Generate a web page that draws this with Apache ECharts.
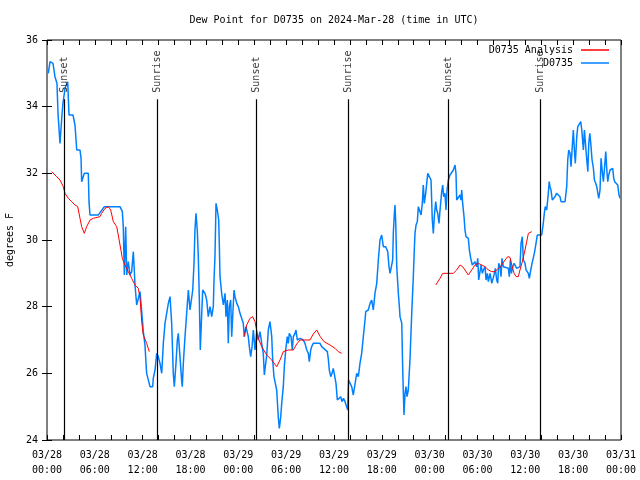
<!DOCTYPE html>
<html><head><meta charset="utf-8">
<script src="https://cdn.jsdelivr.net/npm/echarts@6/dist/echarts.min.js"></script>
<style>html,body{margin:0;padding:0;background:#fff}#c{width:640px;height:480px}</style>
</head><body><div id="c"></div>
<script>
const xTickLabels = ['03/28\n00:00','03/28\n06:00','03/28\n12:00','03/28\n18:00','03/29\n00:00','03/29\n06:00','03/29\n12:00','03/29\n18:00','03/30\n00:00','03/30\n06:00','03/30\n12:00','03/30\n18:00','03/31\n00:00'];
const sunTimes = [2.17, 13.84, 26.26, 37.8, 50.35, 61.88];
const sunNames = ['Sunset','Sunrise','Sunset','Sunrise','Sunset','Sunrise'];

// hours since 03/28 00:00 UTC, dew point (F)
const observed = [
[0.16,35.0],[0.38,35.35],[0.75,35.3],[1.0,34.9],[1.25,34.7],[1.38,33.8],[1.63,32.9],[1.88,33.75],[2.0,34.1],[2.26,34.55],
[2.6,34.75],[2.76,33.75],[3.26,33.75],[3.51,33.45],[3.73,32.7],[4.14,32.7],[4.27,32.45],[4.35,31.75],[4.55,31.75],[4.68,32.0],
[5.18,32.0],[5.27,31.15],[5.39,30.75],[6.44,30.75],[7.19,31.0],[8.12,31.0],[8.74,31.0],[8.94,30.95],[9.16,31.0],[9.45,30.85],
[9.57,30.4],[9.7,28.95],[9.87,30.4],[10.0,28.95],[10.2,29.35],[10.41,28.95],[10.62,29.05],[10.83,29.65],[11.04,28.65],[11.25,28.05],
[11.45,28.05],[11.67,28.45],[11.88,27.85],[12.08,27.25],[12.29,26.85],[12.42,26.3],[12.5,26.0],[12.71,26.0],[12.92,25.6],[13.26,25.6],
[13.33,25.85],[13.55,26.1],[13.76,26.6],[13.96,26.5],[14.17,26.3],[14.39,26.0],[14.59,26.9],[14.8,27.5],[15.01,27.8],[15.22,28.1],
[15.43,28.3],[15.64,27.5],[15.84,26.0],[15.97,25.6],[16.18,26.3],[16.35,27.0],[16.47,27.2],[16.68,26.5],[16.9,25.75],[16.97,25.6],
[17.1,26.3],[17.31,27.1],[17.52,27.8],[17.73,28.5],[17.94,27.9],[18.15,27.9],[18.28,28.5],[18.44,29.3],[18.56,30.3],[18.69,30.8],
[18.85,30.3],[18.98,29.5],[19.1,28.3],[19.23,26.7],[19.36,27.5],[19.53,28.5],[19.82,28.4],[20.03,28.2],[20.23,27.7],[20.45,28.0],
[20.66,27.7],[20.86,28.0],[20.95,28.8],[21.07,29.5],[21.2,31.1],[21.36,30.9],[21.54,30.6],[21.61,29.9],[21.7,28.9],[21.91,28.4],
[22.12,28.05],[22.33,28.4],[22.45,27.7],[22.62,28.2],[22.74,26.9],[22.87,28.0],[23.04,28.2],[23.17,27.1],[23.29,27.7],[23.46,28.5],
[23.58,28.3],[23.8,28.1],[24.0,28.0],[24.21,27.8],[24.42,27.85],[24.62,27.5],[24.75,27.1],[24.96,27.4],[25.25,27.1],[25.38,26.8],
[25.55,26.5],[25.72,26.8],[25.88,27.3],[26.09,26.7],[26.3,27.2],[26.5,27.0],[26.72,27.25],[26.93,26.9],[27.13,26.6],[27.26,25.95],
[27.41,25.95],[27.56,26.55],[27.76,27.3],[27.97,27.55],[28.19,27.1],[28.31,26.4],[28.47,25.9],[28.64,25.7],[28.81,25.5],[29.01,24.7],
[29.14,24.35],[29.32,24.7],[29.44,25.1],[29.64,25.6],[29.77,26.2],[29.94,26.7],[30.14,27.1],[30.27,26.9],[30.39,27.2],[30.61,27.1],
[30.77,26.7],[30.9,27.1],[31.11,27.2],[31.23,27.3],[31.4,27.0],[31.52,26.95],[31.74,27.05],[31.95,27.05],[32.15,27.0],[32.36,26.9],
[32.58,26.7],[32.78,26.6],[32.9,26.35],[33.08,26.7],[33.2,26.8],[33.4,26.9],[33.83,26.9],[34.24,26.9],[34.46,26.8],[34.68,26.75],
[35.16,26.65],[35.28,26.45],[35.41,26.1],[35.59,25.9],[35.75,26.0],[35.91,26.15],[36.13,26.15],[36.25,25.7],[36.42,25.2],[36.67,25.15],
[36.84,25.3],[37.0,25.15],[37.19,25.25],[37.38,25.15],[37.59,25.0],[37.72,24.9],[37.82,25.8],[38.01,25.8],[38.22,25.6],[38.42,25.35],
[38.64,25.35],[38.85,26.0],[39.05,25.9],[39.26,26.3],[39.47,26.6],[39.68,27.1],[39.89,27.6],[39.98,27.85],[40.3,27.9],[40.52,28.1],
[40.73,28.2],[40.93,27.9],[41.14,28.4],[41.36,28.7],[41.56,29.4],[41.77,30.0],[41.98,30.15],[42.19,29.8],[42.49,29.8],[42.74,29.65],
[42.9,29.2],[43.03,29.0],[43.24,29.0],[43.36,29.4],[43.44,30.2],[43.56,30.75],[43.65,31.05],[43.74,30.55],[43.87,29.2],[44.07,28.4],
[44.2,28.0],[44.28,27.7],[44.5,27.5],[44.62,26.1],[44.7,25.4],[44.78,24.75],[44.91,25.4],[45.03,25.6],[45.16,25.3],[45.32,25.5],
[45.53,26.4],[45.75,27.8],[45.95,28.9],[46.07,29.7],[46.16,30.2],[46.29,30.45],[46.45,30.55],[46.58,31.0],[46.79,30.85],[46.92,30.75],
[47.08,31.1],[47.2,31.65],[47.33,31.1],[47.5,31.4],[47.63,31.7],[47.76,32.0],[47.92,31.95],[48.17,31.8],[48.33,30.6],[48.46,30.2],
[48.58,30.7],[48.76,31.15],[48.88,30.9],[49.01,30.8],[49.17,30.5],[49.3,30.9],[49.51,31.45],[49.64,31.65],[49.76,31.3],[49.92,31.4],
[50.05,30.9],[50.18,31.5],[50.34,31.8],[50.55,31.95],[50.76,31.95],[50.97,32.1],[51.18,32.25],[51.3,32.0],[51.39,31.2],[51.59,31.2],
[51.81,31.35],[51.93,31.2],[52.02,31.5],[52.14,31.1],[52.31,30.7],[52.43,30.3],[52.56,30.1],[52.85,30.05],[52.98,29.7],[53.15,29.45],
[53.35,29.25],[53.48,29.2],[53.69,29.35],[53.9,29.2],[54.03,29.45],[54.15,28.8],[54.32,28.8],[54.45,29.25],[54.61,29.0],[54.74,29.1],
[54.95,29.2],[55.07,28.8],[55.24,29.0],[55.36,28.75],[55.58,29.0],[55.79,28.7],[55.95,28.7],[56.07,28.95],[56.24,29.15],[56.41,28.8],
[56.54,28.7],[56.66,29.3],[56.82,29.2],[56.95,28.9],[57.07,29.45],[57.24,29.2],[57.45,29.15],[57.87,29.15],[57.99,28.9],[58.12,29.4],
[58.25,29.0],[58.42,29.2],[58.59,29.3],[58.92,29.15],[59.33,29.2],[59.46,29.9],[59.62,30.1],[59.75,29.4],[59.96,29.3],[60.09,29.1],
[60.21,29.15],[60.38,29.0],[60.5,28.85],[60.68,29.1],[60.84,29.3],[61.0,29.35],[61.13,29.6],[61.34,29.9],[61.5,30.15],[62.05,30.15],
[62.25,30.5],[62.38,30.8],[62.5,31.0],[62.68,30.9],[62.88,31.4],[63.0,31.75],[63.09,31.6],[63.22,31.5],[63.38,31.2],[63.51,31.15],
[63.72,31.3],[63.93,31.4],[64.14,31.45],[64.35,31.3],[64.48,31.15],[64.98,31.15],[65.19,31.6],[65.32,32.4],[65.44,32.7],[65.61,32.6],
[65.73,32.2],[65.86,32.7],[66.02,33.3],[66.15,32.7],[66.27,32.3],[66.45,33.1],[66.58,33.4],[66.78,33.45],[66.95,33.55],[67.08,33.3],
[67.28,32.7],[67.41,33.3],[67.54,32.9],[67.71,32.4],[67.84,32.05],[67.96,32.9],[68.09,33.2],[68.21,32.9],[68.37,32.4],[68.54,32.15],
[68.66,31.8],[68.83,31.7],[68.96,31.6],[69.21,31.25],[69.37,31.5],[69.5,32.45],[69.63,32.1],[69.79,31.75],[69.91,32.1],[70.09,32.65],
[70.22,32.1],[70.34,31.75],[70.46,31.95],[70.63,32.1],[70.96,32.15],[71.09,31.85],[71.21,31.75],[71.59,31.65],[71.75,31.35],[71.88,31.25]
];

// model analysis, with gaps
const analysis = [
[0.59,32.05],[0.79,32.0],[1.22,31.9],[1.63,31.8],[2.04,31.6],[2.26,31.4],[2.67,31.25],[3.1,31.15],[3.51,31.05],[3.85,31.0],
[4.14,30.65],[4.35,30.4],[4.68,30.2],[4.98,30.4],[5.39,30.6],[5.81,30.65],[6.65,30.7],[6.86,30.8],[7.28,30.95],[7.69,31.0],
[7.99,30.9],[8.32,30.55],[8.74,30.4],[8.94,30.15],[9.16,29.85],[9.45,29.45],[9.78,29.25],[10.2,29.05],[10.62,28.85],[11.04,28.65],
[11.45,28.55],[11.67,28.25],[11.88,27.55],[12.08,27.15],[12.5,26.9],[12.83,26.65],
[18.0,null],
[24.71,27.1],[25.05,27.45],[25.46,27.65],[25.8,27.7],[26.09,27.55],[26.3,27.3],[26.5,27.05],[26.93,26.8],[27.56,26.55],[28.19,26.4],
[28.81,26.2],[29.23,26.4],[29.64,26.65],[30.27,26.7],[30.9,26.7],[31.32,26.88],[31.74,27.0],[32.99,27.0],[33.4,27.18],[33.83,27.3],
[34.28,27.1],[34.75,26.95],[35.5,26.85],[36.13,26.75],[36.54,26.65],[36.97,26.6],
[42.0,null],
[48.76,28.65],[49.3,28.85],[49.64,29.0],[50.97,29.0],[51.39,29.1],[51.81,29.25],[52.14,29.2],[52.43,29.1],[52.85,28.95],[53.27,29.1],
[53.69,29.25],[54.1,29.3],[54.53,29.25],[54.95,29.2],[55.36,29.1],[55.79,29.05],[56.2,29.05],[56.61,29.15],[57.04,29.25],[57.45,29.4],
[57.79,29.5],[58.08,29.48],[58.3,29.25],[58.59,29.0],[58.84,28.9],[59.12,28.9],[59.33,29.1],[59.67,29.4],[59.96,29.7],[60.17,29.95],
[60.38,30.2],[60.59,30.25],[60.8,30.25]
];

const FONT = 'DejaVu Sans Mono';
const txt = {fontFamily: FONT, fontSize: 10, color: '#000', fontWeight: 'normal'};

const chart = echarts.init(document.getElementById('c'), null, {renderer: 'canvas'});
const legendCommon = {orient: 'vertical', align: 'right', itemWidth: 28, itemHeight: 1.5, selectedMode: false,
  padding: 0, textStyle: Object.assign({}, txt, {padding: [0, 3, 0, 0]})};
chart.setOption({
  animation: false,
  backgroundColor: '#fff',
  title: {text: 'Dew Point for D0735 on 2024-Mar-28 (time in UTC)', left: 334, top: 15, textAlign: 'center',
    padding: 0, textStyle: txt},
  legend: [
    Object.assign({data: [{name: 'D0735 Analysis', icon: 'rect'}], right: 31, top: 45}, legendCommon),
    Object.assign({data: [{name: 'D0735', icon: 'rect'}], right: 31, top: 58}, legendCommon)
  ],
  grid: {left: 47, right: 19, top: 40, bottom: 40, show: true, borderColor: '#000', borderWidth: 1,
    backgroundColor: 'transparent', containLabel: false, outerBoundsMode: 'none'},
  xAxis: [
    {type: 'value', min: 0, max: 72, interval: 2, axisLine: {show: false}, splitLine: {show: false},
     axisTick: {show: true, inside: true, length: 5, lineStyle: {color: '#000'}},
     axisLabel: Object.assign({}, txt, {margin: 8, lineHeight: 15, showMinLabel: true, showMaxLabel: true,
       formatter: v => (v % 6 === 0 ? xTickLabels[v / 6] : '')})},
    {type: 'value', position: 'top', min: 0, max: 72, interval: 2, axisLine: {show: false}, splitLine: {show: false},
     axisTick: {show: true, inside: true, length: 5, lineStyle: {color: '#000'}}, axisLabel: {show: false}}
  ],
  yAxis: [
    {type: 'value', min: 24, max: 36, interval: 2, axisLine: {show: false}, splitLine: {show: false},
     axisTick: {show: true, inside: true, length: 5, lineStyle: {color: '#000'}},
     axisLabel: Object.assign({}, txt, {margin: 9}),
     name: 'degrees F', nameLocation: 'middle', nameRotate: 90, nameGap: 32, nameTextStyle: txt},
    {type: 'value', position: 'right', min: 24, max: 36, interval: 2, axisLine: {show: false}, splitLine: {show: false},
     axisTick: {show: true, inside: true, length: 5, lineStyle: {color: '#000'}}, axisLabel: {show: false}}
  ],
  series: [
    {name: 'D0735', type: 'line', data: observed, symbol: 'none', showSymbol: false, color: '#0080ff',
     itemStyle: {color: '#0080ff'}, lineStyle: {width: 1.5, color: '#0080ff'}, z: 3,
     markLine: {silent: true, symbol: 'none', animation: false, label: {show: false},
       lineStyle: {color: '#000', type: 'solid', width: 1.2},
       data: sunTimes.map(t => [{coord: [t, 24]}, {coord: [t, 34.22]}])}},
    {name: 'D0735 Analysis', type: 'line', data: analysis, symbol: 'none', showSymbol: false, connectNulls: false, color: '#ff0000',
     itemStyle: {color: '#ff0000'}, lineStyle: {width: 1, color: '#ff0000'}, z: 4},
    {name: 'sun', type: 'scatter', symbolSize: 0, silent: true, z: 5,
     data: sunTimes.map((t, i) => [t, 34.42, sunNames[i]]),
     label: Object.assign({}, txt, {show: true, position: 'inside', rotate: 90, align: 'left', verticalAlign: 'middle',
       formatter: p => p.value[2]})}
  ]
});
</script></body></html>
